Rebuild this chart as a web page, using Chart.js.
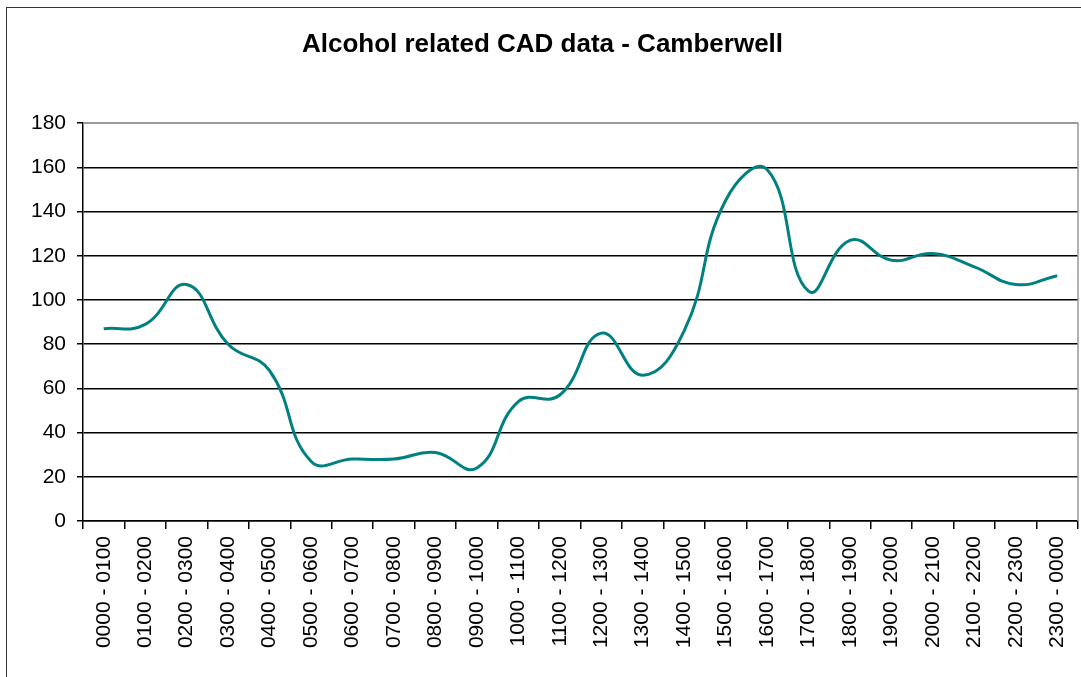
<!DOCTYPE html>
<html>
<head>
<meta charset="utf-8">
<script src="https://cdn.jsdelivr.net/npm/chart.js@4.4.1/dist/chart.umd.min.js"></script>
<style>
  html, body { margin: 0; padding: 0; background: #fff; overflow: hidden; }
  #frame {
    position: absolute; left: 6px; top: 7px;
    width: 1075px; height: 670px;
    border-left: 1px solid #333; border-top: 1px solid #333;
  }
</style>
</head>
<body>
<div id="frame"><canvas id="chart" width="1075" height="670"></canvas></div>
<script>
// Uurvakken (categorieen) en aantallen
const hours = [
  '0000 - 0100', '0100 - 0200', '0200 - 0300', '0300 - 0400', '0400 - 0500', '0500 - 0600',
  '0600 - 0700', '0700 - 0800', '0800 - 0900', '0900 - 1000', '1000 - 1100', '1100 - 1200',
  '1200 - 1300', '1300 - 1400', '1400 - 1500', '1500 - 1600', '1600 - 1700', '1700 - 1800',
  '1800 - 1900', '1900 - 2000', '2000 - 2100', '2100 - 2200', '2200 - 2300', '2300 - 0000'
];
const cadCounts = [87, 89, 107, 80, 68, 27, 28, 28, 31, 24, 54, 57, 85, 66, 86, 145, 159, 104, 127, 118, 121, 115, 107, 111];
const yTicks = [0, 20, 40, 60, 80, 100, 120, 140, 160, 180];

const font = 'Liberation Sans, Arial, sans-serif';

// grijze rand rechts en boven het plotgebied
const plotBorder = {
  id: 'plotBorder',
  beforeDatasetsDraw(chart) {
    const a = chart.chartArea;
    const ctx = chart.ctx;
    ctx.save();
    ctx.strokeStyle = '#9a9a9a';
    ctx.lineWidth = 1.5;
    ctx.beginPath();
    ctx.moveTo(a.left, a.top);
    ctx.lineTo(a.right, a.top);
    ctx.lineTo(a.right, a.bottom);
    ctx.stroke();
    ctx.restore();
  }
};

new Chart(document.getElementById('chart').getContext('2d'), {
  type: 'line',
  data: {
    labels: hours,
    datasets: [{
      label: 'CAD',
      data: cadCounts,
      borderColor: '#008080',
      borderWidth: 3,
      pointRadius: 0,
      tension: 0.45,
      fill: false
    }]
  },
  options: {
    responsive: false,
    animation: false,
    layout: { padding: { right: 4 } },
    plugins: {
      legend: { display: false },
      tooltip: { enabled: false },
      title: {
        display: true,
        text: 'Alcohol related CAD data - Camberwell',
        color: '#000',
        font: { family: font, size: 26, weight: 'bold' },
        padding: { top: 21, bottom: 63 }
      }
    },
    scales: {
      x: {
        offset: true,
        grid: { offset: true, drawOnChartArea: false, tickLength: 8, color: '#000', lineWidth: 1.5 },
        border: { color: '#000', width: 1.5 },
        ticks: {
          color: '#000',
          font: { family: font, size: 21 },
          minRotation: 90, maxRotation: 90,
          autoSkip: false,
          padding: 7
        },
        afterFit(scale) {
          scale.height = 157;
          scale.paddingLeft = 0;
          scale.paddingRight = 0;
        }
      },
      y: {
        min: 0, max: 180,
        afterBuildTicks(scale) { scale.ticks = yTicks.map(v => ({ value: v })); },
        grid: {
          color: ctx => ctx.tick && ctx.tick.value === 180 ? '#9a9a9a' : '#000',
          tickColor: '#000',
          lineWidth: 1.5,
          tickLength: 6
        },
        border: { color: '#000', width: 1.5 },
        ticks: {
          color: '#000',
          font: { family: font, size: 21 },
          padding: 11
        },
        afterFit(scale) { scale.width = 76; }
      }
    }
  },
  plugins: [plotBorder]
});
</script>
</body>
</html>
